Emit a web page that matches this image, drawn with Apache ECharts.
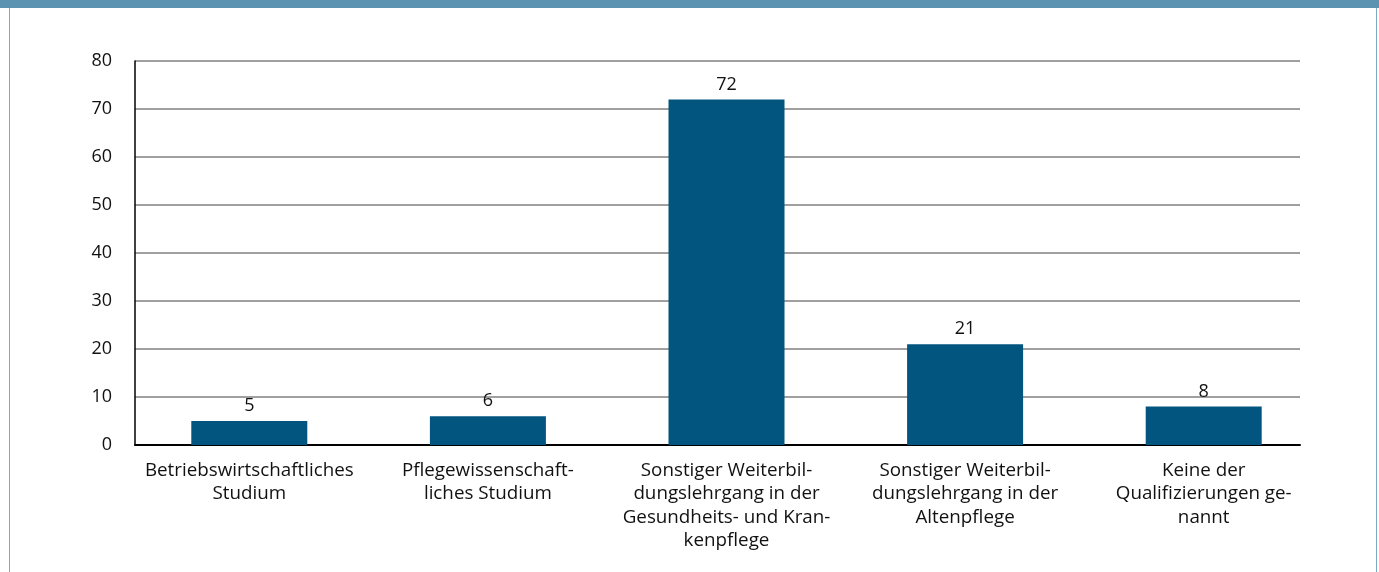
<!DOCTYPE html>
<html><head><meta charset="utf-8">
<script src="https://cdn.jsdelivr.net/npm/echarts@6/dist/echarts.min.js"></script>
<style>
html,body{margin:0;padding:0;background:#fff;}
#frame{position:absolute;left:0;top:0;width:1379px;height:572px;}
#band{position:absolute;left:0;top:0;width:1379px;height:8px;background:#5b93b0;}
#lb{position:absolute;left:9px;top:8px;width:1px;height:564px;background:#7fa9c2;}
#rb{position:absolute;left:1376px;top:8px;width:1px;height:564px;background:#7fa9c2;}
#chart{position:absolute;left:0;top:0;width:1379px;height:572px;}
</style></head>
<body>
<div id="frame"><div id="band"></div><div id="lb"></div><div id="rb"></div><div id="chart"></div></div>
<script>
const categories = [
  "Betriebswirtschaftliches\nStudium",
  "Pflegewissenschaft-\nliches Studium",
  "Sonstiger Weiterbil-\ndungslehrgang in der\nGesundheits- und Kran-\nkenpflege",
  "Sonstiger Weiterbil-\ndungslehrgang in der\nAltenpflege",
  "Keine der\nQualifizierungen ge-\nnannt"
];
const values = [5, 6, 72, 21, 8];
const yMin = 0, yMax = 80, yStep = 10;

const font = "'Open Sans', 'Noto Sans', sans-serif";
const chart = echarts.init(document.getElementById('chart'), null, {renderer:'canvas'});
chart.setOption({
  animation:false,
  backgroundColor:'transparent',
  grid:[
    {left:135, right:79, top:61, bottom:127, containLabel:false},
    {left:130, right:56, top:61, bottom:127, containLabel:false}
  ],
  xAxis:[
    {gridIndex:0, type:'category', data:categories, axisLine:{show:true, lineStyle:{color:'#000', width:2}},
     axisTick:{show:false}, axisLabel:{show:false}, splitLine:{show:false}},
    {gridIndex:1, type:'category', data:categories, axisLine:{show:false}, axisTick:{show:false},
     axisLabel:{show:true, interval:0, color:'#111', fontFamily:font, fontSize:18.8, lineHeight:23.3, margin:14, align:'center'}}
  ],
  yAxis:[
    {gridIndex:0, type:'value', min:yMin, max:yMax, interval:yStep,
     axisLine:{show:true, lineStyle:{color:'#000', width:1.5}}, axisTick:{show:false},
     axisLabel:{color:'#111', fontFamily:font, fontSize:18, margin:23},
     splitLine:{show:true, lineStyle:{color:'#808080', width:1.5}}},
    {gridIndex:1, type:'value', min:yMin, max:yMax, interval:yStep, show:false, splitLine:{show:false}}
  ],
  series:[{
    type:'bar', xAxisIndex:1, yAxisIndex:1, data:values, barWidth:116,
    itemStyle:{color:'#02557f'},
    label:{show:true, position:'top', distance:6, color:'#111', fontFamily:font, fontSize:18}
  }]
});
</script>
</body></html>
